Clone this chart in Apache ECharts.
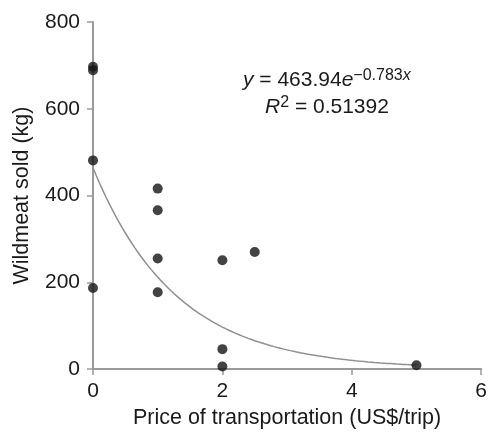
<!DOCTYPE html>
<html>
<head>
<meta charset="utf-8">
<script src="https://cdn.jsdelivr.net/npm/echarts@6/dist/echarts.min.js"></script>
<style>
html,body{margin:0;padding:0;background:#fff;}
#chart{width:490px;height:434px;}
</style>
</head>
<body>
<div id="chart"></div>
<script>
// Observed data: price of transportation (US$/trip) vs wildmeat sold (kg)
const priceX = [0, 0, 0, 0, 1, 1, 1, 1, 2, 2, 2, 2.5, 5];
const wildmeatY = [697, 689, 481, 187, 416, 366, 255, 177, 251, 46, 6, 270, 9];

// Fitted exponential trend shown on the chart: y = a * e^(b x)
const fitA = 463.94;
const fitB = -0.783;
const fitR2 = '0.51392';
const fitXStart = 0;
const fitXEnd = 5;

// Axis ticks
const xTicks = [0, 2, 4, 6];
const yTicks = [0, 200, 400, 600, 800];

const xAxisName = 'Price of transportation (US$/trip)';
const yAxisName = 'Wildmeat sold (kg)';

const points = priceX.map((x, i) => [x, wildmeatY[i]]);
const trend = [];
for (let k = 0; k <= 100; k++) {
  const x = fitXStart + (fitXEnd - fitXStart) * k / 100;
  trend.push([x, fitA * Math.exp(fitB * x)]);
}

const FONT = '"Liberation Sans", Arial, Helvetica, sans-serif';
const axisGray = '#9a9a9a';

const chart = echarts.init(document.getElementById('chart'), null, {renderer: 'canvas'});
chart.setOption({
  animation: false,
  backgroundColor: '#ffffff',
  grid: {left: 93, right: 7, top: 22, bottom: 62, containLabel: false},
  xAxis: {
    type: 'value',
    min: xTicks[0], max: xTicks[xTicks.length - 1], interval: xTicks[1] - xTicks[0],
    name: xAxisName, nameLocation: 'middle', nameGap: 37,
    nameTextStyle: {fontFamily: FONT, fontSize: 21.5, color: '#1a1a1a'},
    axisLine: {onZero: false, lineStyle: {color: axisGray, width: 2}},
    axisTick: {show: true, inside: false, length: 6, lineStyle: {color: axisGray, width: 1.5}},
    axisLabel: {fontFamily: FONT, fontSize: 21, color: '#1a1a1a', margin: 12},
    splitLine: {show: false}
  },
  yAxis: {
    type: 'value',
    min: yTicks[0], max: yTicks[yTicks.length - 1], interval: yTicks[1] - yTicks[0],
    name: yAxisName, nameLocation: 'middle', nameGap: 60, nameRotate: 90,
    nameTextStyle: {fontFamily: FONT, fontSize: 21.5, color: '#1a1a1a'},
    axisLine: {show: true, onZero: false, lineStyle: {color: axisGray, width: 2}},
    axisTick: {show: true, inside: false, length: 6, lineStyle: {color: axisGray, width: 1.5}},
    axisLabel: {fontFamily: FONT, fontSize: 21, color: '#1a1a1a', margin: 13},
    splitLine: {show: false}
  },
  series: [
    {
      type: 'line',
      data: trend,
      showSymbol: false,
      smooth: false,
      lineStyle: {color: '#8f8f8f', width: 1.5},
      silent: true,
      z: 2
    },
    {
      type: 'scatter',
      data: points,
      symbol: 'circle',
      symbolSize: 10,
      itemStyle: {color: '#141414'},
      z: 3
    }
  ],
  graphic: [
    {
      type: 'text',
      left: 243, top: 68,
      style: {
        text: '{i|y} = 463.94{i|e}{sup|\u22120.783}{supi|x}',
        fontFamily: FONT, fontSize: 21, fill: '#1a1a1a',
        rich: {
          i: {fontStyle: 'italic', fontSize: 21, fontFamily: FONT},
          sup: {fontSize: 16, verticalAlign: 'top', padding: [0,0,9,0], fontFamily: FONT},
          supi: {fontSize: 16, fontStyle: 'italic', verticalAlign: 'top', padding: [0,0,9,0], fontFamily: FONT}
        }
      }
    },
    {
      type: 'text',
      left: 265, top: 95,
      style: {
        text: '{i|R}{sup|2} = ' + fitR2,
        fontFamily: FONT, fontSize: 21, fill: '#1a1a1a',
        rich: {
          i: {fontStyle: 'italic', fontSize: 21, fontFamily: FONT},
          sup: {fontSize: 16, verticalAlign: 'top', padding: [0,0,9,0], fontFamily: FONT}
        }
      }
    }
  ]
});
</script>
</body>
</html>
